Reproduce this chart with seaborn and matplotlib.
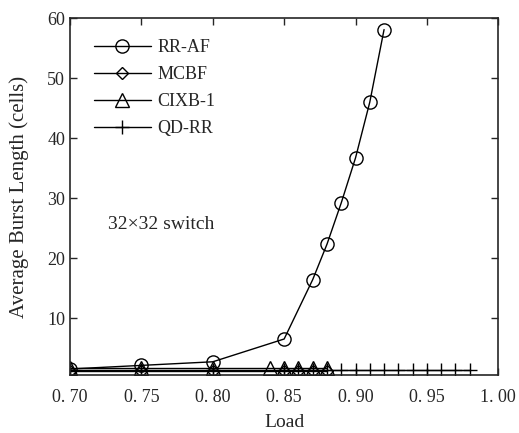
import matplotlib
matplotlib.use("Agg")
import matplotlib.pyplot as plt
import seaborn as sns

# values
load_rraf = [0.70, 0.75, 0.80, 0.85, 0.87, 0.88, 0.89, 0.90, 0.91, 0.92]
burst_rraf = [1.5, 2.1, 2.7, 6.5, 16.4, 22.3, 29.2, 36.7, 46.0, 58.1]

load_mcbf = [0.70, 0.75, 0.80, 0.85, 0.86, 0.87, 0.88]
burst_mcbf = [1.1, 1.1, 1.1, 1.1, 1.1, 1.1, 1.1]

load_cixb = [0.70, 0.75, 0.80, 0.84, 0.85, 0.86, 0.87, 0.88]
burst_cixb = [1.6, 1.6, 1.6, 1.6, 1.6, 1.6, 1.6, 1.6]

load_qdrr = [0.70, 0.75, 0.80, 0.85, 0.86, 0.87, 0.88, 0.89, 0.90,
             0.91, 0.92, 0.93, 0.94, 0.95, 0.96, 0.97, 0.98]
burst_qdrr = [1.3] * len(load_qdrr)

x_ticks = [0.70, 0.75, 0.80, 0.85, 0.90, 0.95, 1.00]
x_tick_labels = ["0. 70", "0. 75", "0. 80", "0. 85", "0. 90", "0. 95", "1. 00"]
y_ticks = [10, 20, 30, 40, 50, 60]

sns.set_style("ticks")
plt.rcParams["font.family"] = ["Liberation Serif", "DejaVu Serif"]
plt.rcParams["xtick.direction"] = "in"
plt.rcParams["ytick.direction"] = "in"
plt.rcParams["axes.linewidth"] = 1.2

fig = plt.figure(figsize=(5.19, 4.33), dpi=100)
ax = fig.add_axes([0.135, 0.134, 0.825, 0.824])

series = [
    (load_rraf, burst_rraf, "o", 9.5, "RR-AF"),
    (load_mcbf, burst_mcbf, "D", 6.5, "MCBF"),
    (load_cixb, burst_cixb, "^", 9.5, "CIXB-1"),
    (load_qdrr, burst_qdrr, "+", 10, "QD-RR"),
]
for xs, ys, mk, ms, name in series:
    sns.lineplot(x=xs, y=ys, ax=ax, color="black", linewidth=1.0,
                 marker=mk, markersize=ms, markerfacecolor="none",
                 markeredgecolor="black", markeredgewidth=1.0, label=name)

ax.set_xlim(0.70, 1.00)
ax.set_ylim(0.5, 60)
ax.set_xticks(x_ticks)
ax.set_xticklabels(x_tick_labels)
ax.set_yticks(y_ticks)
ax.tick_params(axis="both", labelsize=13, length=5, width=1,
               top=True, right=True)
ax.tick_params(axis="x", pad=10)
ax.set_xlabel("Load", fontsize=14, labelpad=6)
ax.set_ylabel("Average Burst Length (cells)", fontsize=15, labelpad=13)

ax.text(0.7265, 25.6, "32\u00d732 switch", fontsize=14, va="center")

ax.legend(loc="upper left", frameon=False, fontsize=13, handlelength=3.2,
          handletextpad=0.35, labelspacing=0.55,
          bbox_to_anchor=(0.0, 1.007), borderaxespad=0.9)

fig.savefig("out.png", dpi=100)
